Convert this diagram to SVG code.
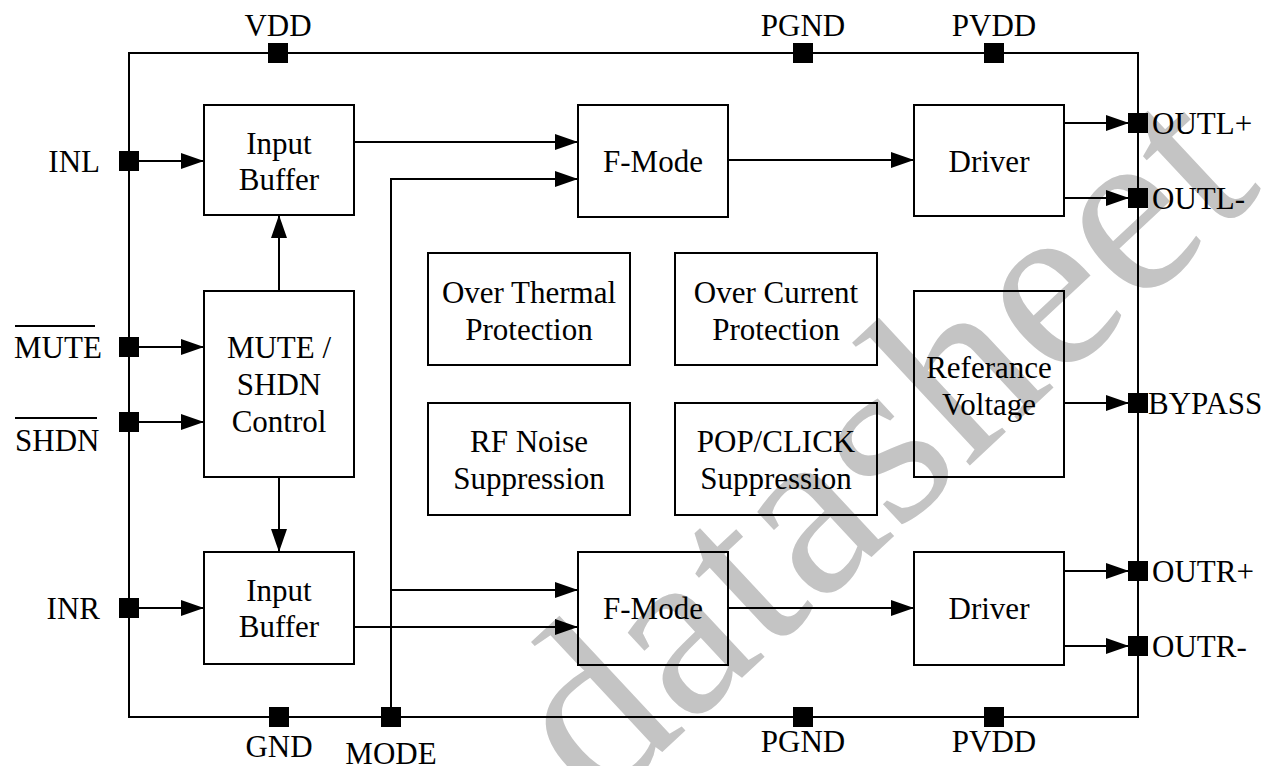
<svg xmlns="http://www.w3.org/2000/svg" width="1275" height="766" viewBox="0 0 1275 766">
<defs>
<marker id="arr" markerUnits="userSpaceOnUse" markerWidth="24" markerHeight="16" refX="23" refY="8" orient="auto">
<path d="M0,0 L23,8 L0,16 Z" fill="#000"/>
</marker>
<style>
text{font-family:"Liberation Serif","Times New Roman",serif;font-size:31px;fill:#000}
.box{fill:none;stroke:#000;stroke-width:2}
.ln{fill:none;stroke:#000;stroke-width:2}
.pin{fill:#000}
.c{text-anchor:middle}
.wm{font-size:245px;fill:#c4c4c4}
</style>
</defs>
<rect width="1275" height="766" fill="#fff"/>
<text class="wm" transform="translate(598,812) rotate(-43)">datasheet</text>

<g id="border">
<rect x="129" y="53" width="1009" height="664" class="box"/>
</g>

<g id="connectors">
<line x1="139" y1="161" x2="204" y2="161" class="ln" marker-end="url(#arr)"/>
<line x1="139" y1="347" x2="204" y2="347" class="ln" marker-end="url(#arr)"/>
<line x1="139" y1="422" x2="204" y2="422" class="ln" marker-end="url(#arr)"/>
<line x1="139" y1="608" x2="204" y2="608" class="ln" marker-end="url(#arr)"/>
<line x1="279" y1="291" x2="279" y2="215" class="ln" marker-end="url(#arr)"/>
<line x1="279" y1="477" x2="279" y2="552" class="ln" marker-end="url(#arr)"/>
<line x1="354" y1="142" x2="578" y2="142" class="ln" marker-end="url(#arr)"/>
<polyline points="391,717 391,179 578,179" class="ln" marker-end="url(#arr)"/>
<line x1="391" y1="590" x2="578" y2="590" class="ln" marker-end="url(#arr)"/>
<line x1="354" y1="627" x2="578" y2="627" class="ln" marker-end="url(#arr)"/>
<line x1="728" y1="160" x2="914" y2="160" class="ln" marker-end="url(#arr)"/>
<line x1="728" y1="608" x2="914" y2="608" class="ln" marker-end="url(#arr)"/>
<line x1="1064" y1="123" x2="1129" y2="123" class="ln" marker-end="url(#arr)"/>
<line x1="1064" y1="198" x2="1129" y2="198" class="ln" marker-end="url(#arr)"/>
<line x1="1064" y1="403" x2="1129" y2="403" class="ln" marker-end="url(#arr)"/>
<line x1="1064" y1="571" x2="1129" y2="571" class="ln" marker-end="url(#arr)"/>
<line x1="1064" y1="646" x2="1129" y2="646" class="ln" marker-end="url(#arr)"/>
</g>

<g id="pins">
<rect class="pin" x="268" y="43" width="20" height="20"/>
<rect class="pin" x="793" y="43" width="20" height="20"/>
<rect class="pin" x="984" y="43" width="20" height="20"/>
<rect class="pin" x="269" y="707" width="20" height="20"/>
<rect class="pin" x="381" y="707" width="20" height="20"/>
<rect class="pin" x="793" y="707" width="20" height="20"/>
<rect class="pin" x="984" y="707" width="20" height="20"/>
<rect class="pin" x="119" y="151" width="20" height="20"/>
<rect class="pin" x="119" y="337" width="20" height="20"/>
<rect class="pin" x="119" y="412" width="20" height="20"/>
<rect class="pin" x="119" y="598" width="20" height="20"/>
<rect class="pin" x="1128" y="113" width="20" height="20"/>
<rect class="pin" x="1128" y="188" width="20" height="20"/>
<rect class="pin" x="1128" y="393" width="20" height="20"/>
<rect class="pin" x="1128" y="561" width="20" height="20"/>
<rect class="pin" x="1128" y="636" width="20" height="20"/>
</g>

<g id="pin-labels">
<text class="c" x="278" y="36">VDD</text>
<text class="c" x="803" y="36">PGND</text>
<text class="c" x="994" y="36">PVDD</text>
<text class="c" x="279" y="757">GND</text>
<text class="c" x="391" y="764">MODE</text>
<text class="c" x="803" y="752">PGND</text>
<text class="c" x="994" y="752">PVDD</text>
<text x="100" y="172" text-anchor="end">INL</text>
<text x="14" y="358">MUTE</text>
<line x1="15" y1="326" x2="95" y2="326" class="ln" stroke-width="1.5"/>
<text x="15" y="451">SHDN</text>
<line x1="15" y1="418" x2="97" y2="418" class="ln" stroke-width="1.5"/>
<text x="100" y="619" text-anchor="end">INR</text>
<text x="1152" y="134">OUTL+</text>
<text x="1152" y="209">OUTL-</text>
<text x="1148" y="414">BYPASS</text>
<text x="1152" y="582">OUTR+</text>
<text x="1152" y="657">OUTR-</text>
</g>

<g id="input-buffer-l">
<rect x="204" y="105" width="150" height="110" class="box"/>
<text class="c" x="279" y="154">Input</text>
<text class="c" x="279" y="190">Buffer</text>
</g>
<g id="mute-shdn">
<rect x="204" y="291" width="150" height="186" class="box"/>
<text class="c" x="279" y="358">MUTE /</text>
<text class="c" x="279" y="395">SHDN</text>
<text class="c" x="279" y="432">Control</text>
</g>
<g id="input-buffer-r">
<rect x="204" y="552" width="150" height="112" class="box"/>
<text class="c" x="279" y="601">Input</text>
<text class="c" x="279" y="637">Buffer</text>
</g>
<g id="fmode-l">
<rect x="578" y="105" width="150" height="112" class="box"/>
<text class="c" x="653" y="172">F-Mode</text>
</g>
<g id="fmode-r">
<rect x="578" y="552" width="150" height="113" class="box"/>
<text class="c" x="653" y="619">F-Mode</text>
</g>
<g id="driver-l">
<rect x="914" y="105" width="150" height="111" class="box"/>
<text class="c" x="989" y="172">Driver</text>
</g>
<g id="driver-r">
<rect x="914" y="552" width="150" height="113" class="box"/>
<text class="c" x="989" y="619">Driver</text>
</g>
<g id="over-thermal">
<rect x="428" y="253" width="202" height="112" class="box"/>
<text class="c" x="529" y="303">Over Thermal</text>
<text class="c" x="529" y="340">Protection</text>
</g>
<g id="over-current">
<rect x="675" y="253" width="202" height="112" class="box"/>
<text class="c" x="776" y="303">Over Current</text>
<text class="c" x="776" y="340">Protection</text>
</g>
<g id="rf-noise">
<rect x="428" y="403" width="202" height="112" class="box"/>
<text class="c" x="529" y="452">RF Noise</text>
<text class="c" x="529" y="489">Suppression</text>
</g>
<g id="pop-click">
<rect x="675" y="403" width="202" height="112" class="box"/>
<text class="c" x="776" y="452">POP/CLICK</text>
<text class="c" x="776" y="489">Suppression</text>
</g>
<g id="ref-voltage">
<rect x="914" y="291" width="150" height="186" class="box"/>
<text class="c" x="989" y="378">Referance</text>
<text class="c" x="989" y="415">Voltage</text>
</g>
</svg>
